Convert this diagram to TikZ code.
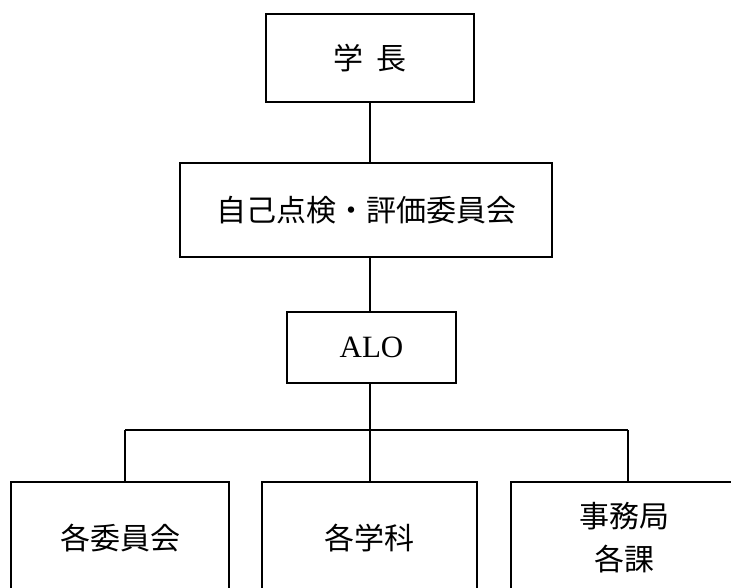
\documentclass[tikz,border=0pt]{standalone}
\usepackage{fontspec}
\setmainfont{Liberation Serif}
\newfontfamily\jpfont{Noto Sans CJK JP}
\tikzset{
  box/.style={draw=black, line width=1.2pt, rectangle, inner sep=0pt, align=center,
    font=\jpfont\fontsize{30}{43}\selectfont},
  conn/.style={draw=black, line width=1.2pt},
}
\begin{document}
\begin{tikzpicture}[x=1pt,y=-1pt]
\useasboundingbox (0,0) rectangle (731,587);
\clip (0,0) rectangle (731,587);
\node[box, minimum width=208pt, minimum height=88pt] (gakucho) at (370,58) {学\hspace{14pt}長};
\node[box, minimum width=372pt, minimum height=94pt] (jiko) at (366,210) {自己点検・評価委員会};
\node[box, minimum width=169pt, minimum height=71pt, font=\fontsize{31}{36}\selectfont] (alo) at (371.5,347.5) {ALO};
\node[box, minimum width=218pt, minimum height=112pt] (b1) at (120,538) {各委員会};
\node[box, minimum width=215pt, minimum height=112pt] (b2) at (369.5,538) {各学科};
\node[box, minimum width=226pt, minimum height=112pt] (b3) at (624,538) {事務局\\各課};
\coordinate (busL) at (125,430);
\coordinate (busM) at (370,430);
\coordinate (busR) at (628,430);
\draw[conn] (gakucho.south) -- (gakucho.south |- jiko.north);
\draw[conn] (gakucho.south |- jiko.south) -- (gakucho.south |- alo.north);
\draw[conn] (gakucho.south |- alo.south) -- (busM);
\draw[conn] (busL) -- (busR);
\draw[conn] (busL) -- (busL |- b1.north);
\draw[conn] (busM) -- (busM |- b2.north);
\draw[conn] (busR) -- (busR |- b3.north);
\end{tikzpicture}
\end{document}
